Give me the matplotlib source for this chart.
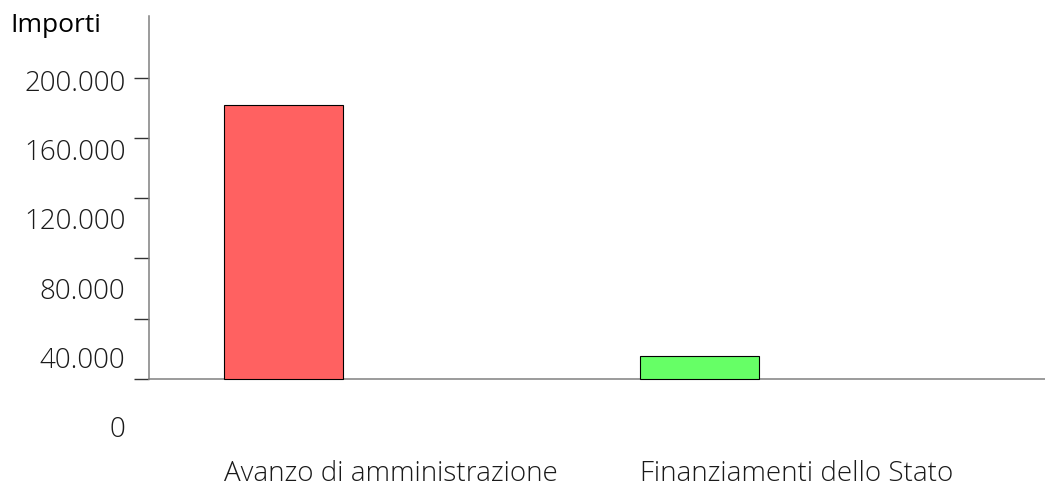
import matplotlib
matplotlib.use('Agg')
import matplotlib.pyplot as plt

# Data
categories = ['Avanzo di amministrazione', 'Finanziamenti dello Stato']
values = [182000, 15200]
bar_colors = ['#FF6161', '#66FF66']
tick_values = [0, 40000, 80000, 120000, 160000, 200000]
tick_labels = ['0', '40.000', '80.000', '120.000', '160.000', '200.000']

plt.rcParams['font.family'] = ['Open Sans', 'DejaVu Sans']

fig = plt.figure(figsize=(10.45, 4.86), dpi=100)
ax = fig.add_axes([149 / 1045, 0, 1 - 149 / 1045, (486 - 16) / 486])

bar_w = 0.286
xpos = list(range(len(categories)))
ax.bar(xpos, values, width=bar_w, color=bar_colors, edgecolor='black', linewidth=0.8, zorder=3)

ax.set_xlim(-0.3233, 1.8306)
ax.set_ylim(-71000, 240800)

# spines
for s in ['top', 'right']:
    ax.spines[s].set_visible(False)
ax.spines['left'].set_bounds(0, 240800)
ax.spines['left'].set_color('#808080')
ax.spines['left'].set_linewidth(1.1)
ax.spines['bottom'].set_position(('data', 0))
ax.spines['bottom'].set_color('#808080')
ax.spines['bottom'].set_linewidth(1.1)

# major y ticks (marks only)
ax.set_yticks(tick_values)
ax.set_yticklabels([''] * len(tick_values))
ax.tick_params(axis='y', which='major', length=11, width=1.0, color='#333333', direction='out')

# labels sit a little off the tick marks in the reference
label_pos = [-31840 + k * 46036 for k in range(len(tick_labels))]
ax.set_yticks(label_pos, minor=True)
ax.set_yticklabels(tick_labels, minor=True, fontsize=20, fontweight='light', color='#1a1a1a')
ax.tick_params(axis='y', which='minor', length=0, pad=17)

# x labels left-aligned at bar edges
ax.set_xticks([x - bar_w / 2 for x in xpos])
ax.set_xticklabels(categories, fontsize=20, fontweight='light', color='#1a1a1a', ha='left')
ax.tick_params(axis='x', length=0, pad=58)

fig.text(10 / 1045, 1 - 25 / 486, 'Importi', fontsize=19, va='center', ha='left', color='black')

fig.savefig('out.png', dpi=100)
